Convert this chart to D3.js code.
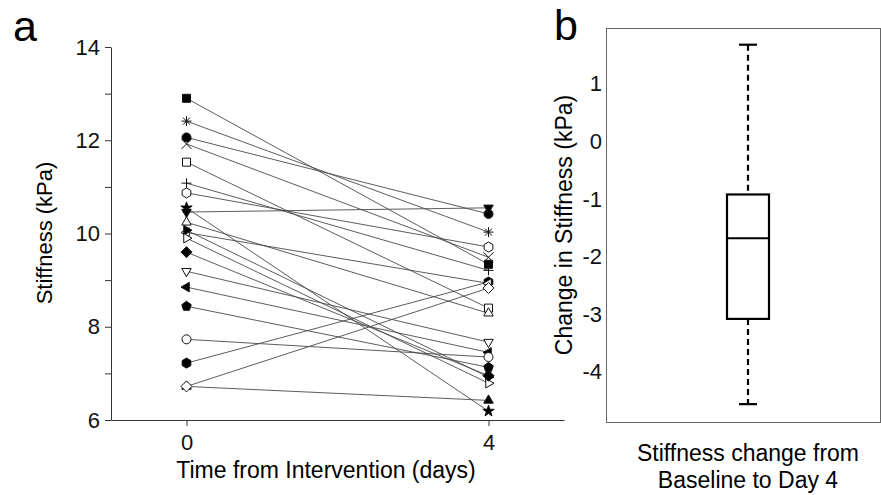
<!DOCTYPE html>
<html lang="en">
<head>
  <meta charset="UTF-8">
  <title>Stiffness</title>
  <script src="https://cdn.jsdelivr.net/npm/d3@7"></script>
  <style>
    body {
      margin: 0;
      background: #fff;
    }

    svg {
      font-family: "Liberation Sans", Arial, sans-serif;
    }

    .axis path, .axis line {
      stroke: #333;
    }

    .axis text {
      fill: #111;
      font-family: "Liberation Sans", Arial, sans-serif;
    }
  </style>
</head>
<body>
<svg id="chart" width="881" height="495"></svg>
<script>
  // panel a: one entry per subject, baseline (day 0) and day 4
  const markerTypes = ["hexagonF", "triUpF", "squareF", "asterisk", "circleF", "times", "square", "plus", "hexagon",
    "star", "triDownF", "triUp", "triLeft", "triRightF", "triRight", "diamondF", "triDown", "triLeftF",
    "pentagonF", "circle", "diamond"];
  const day0 = [7.22, 6.72, 12.90, 12.41, 12.06, 11.92, 11.53, 11.08, 10.87,
    10.55, 10.46, 10.24, 10.02, 10.07, 9.90, 9.60, 9.19, 8.85,
    8.44, 7.73, 6.72];
  const day4 = [8.96, 6.42, 9.34, 10.03, 10.42, 9.49, 8.40, 9.21, 9.71,
    6.19, 10.55, 8.29, 8.93, 6.92, 6.79, 6.95, 7.67, 7.45,
    7.13, 7.35, 8.83];
  const days = [0, 4];
  const yTicksA = [6, 8, 10, 12, 14];
  const yMinorA = [7, 9, 11, 13];

  // panel b: change from baseline to day 4
  const boxStats = {min: -4.56, q1: -3.08, median: -1.68, q3: -0.92, max: 1.68};
  const yTicksB = [-4, -3, -2, -1, 0, 1];

  const svg = d3.select("#chart");

  // ---------- panel a ----------
  let x = d3.scaleLinear().domain([-1, 5]).range([111, 564]);
  let y = d3.scaleLinear().domain([6, 14]).range([420, 47]);

  svg.append("g")
      .attr("class", "axis")
      .attr("transform", "translate(111,0)")
      .call(d3.axisLeft(y).tickValues(yTicksA).tickFormat(d => String(d)).tickSize(6).tickSizeOuter(0).tickPadding(5))
      .call(g => g.selectAll("text").style("font-size", "22px"));

  svg.append("g")
      .attr("class", "axis")
      .attr("transform", "translate(111,0)")
      .call(d3.axisLeft(y).tickValues(yMinorA).tickSize(6).tickSizeOuter(0).tickFormat(""))
      .call(g => g.select(".domain").remove());

  svg.append("g")
      .attr("class", "axis")
      .attr("transform", "translate(0,420)")
      .call(d3.axisBottom(x).tickValues(days).tickFormat(d => String(d)).tickSize(6).tickSizeOuter(0).tickPadding(8))
      .call(g => g.selectAll("text").style("font-size", "22px"));

  let subjects = markerTypes.map((m, i) => ({marker: m, v0: day0[i], v4: day4[i]}));

  svg.append("g")
      .selectAll("line")
      .data(subjects)
      .join("line")
      .attr("x1", x(days[0]))
      .attr("x2", x(days[1]))
      .attr("y1", d => y(d.v0))
      .attr("y2", d => y(d.v4))
      .attr("stroke", "#4a4a4a")
      .attr("stroke-width", 0.9);

  let pts = [];
  subjects.forEach(d => {
    pts.push({marker: d.marker, cx: x(days[0]), cy: y(d.v0)});
    pts.push({marker: d.marker, cx: x(days[1]), cy: y(d.v4)});
  });

  svg.append("g")
      .selectAll("path")
      .data(pts)
      .join("path")
      .attr("transform", d => `translate(${d.cx},${d.cy})`)
      .attr("d", d => shape(d.marker, 5))
      .attr("fill", d => isStroke(d.marker) ? "none" : (d.marker.endsWith("F") || d.marker === "star" ? "#000" : "#fff"))
      .attr("stroke", "#111")
      .attr("stroke-width", 1);

  svg.append("text")
      .attr("transform", "translate(52,233) rotate(-90)")
      .attr("text-anchor", "middle")
      .style("font-size", "22px")
      .text("Stiffness (kPa)");

  svg.append("text")
      .attr("x", 326)
      .attr("y", 478)
      .attr("text-anchor", "middle")
      .style("font-size", "23px")
      .text("Time from Intervention (days)");

  svg.append("text")
      .attr("x", 13)
      .attr("y", 41)
      .style("font-size", "43px")
      .text("a");

  // ---------- panel b ----------
  let yb = d3.scaleLinear().domain([-4.87, 1.97]).range([422, 28]);
  let cx = 748, bw = 42, cw = 18;

  svg.append("rect")
      .attr("x", 606.5)
      .attr("y", 28.5)
      .attr("width", 274)
      .attr("height", 394)
      .attr("fill", "none")
      .attr("stroke", "#666");

  svg.append("g")
      .attr("class", "axis")
      .attr("transform", "translate(606,0)")
      .call(d3.axisLeft(yb).tickValues(yTicksB).tickFormat(d => String(d)).tickSize(0).tickPadding(4))
      .call(g => g.select(".domain").remove())
      .call(g => g.selectAll("text").style("font-size", "22px"));

  let box = svg.append("g")
      .attr("stroke", "#000")
      .attr("stroke-width", 2.2)
      .attr("fill", "none");

  box.append("line")
      .attr("x1", cx).attr("x2", cx)
      .attr("y1", yb(boxStats.max)).attr("y2", yb(boxStats.q3))
      .attr("stroke-dasharray", "6,4");
  box.append("line")
      .attr("x1", cx).attr("x2", cx)
      .attr("y1", yb(boxStats.q1)).attr("y2", yb(boxStats.min))
      .attr("stroke-dasharray", "6,4");
  box.selectAll(".cap")
      .data([boxStats.max, boxStats.min])
      .join("line")
      .attr("x1", cx - cw / 2).attr("x2", cx + cw / 2)
      .attr("y1", d => yb(d)).attr("y2", d => yb(d));
  box.append("rect")
      .attr("x", cx - bw / 2)
      .attr("y", yb(boxStats.q3))
      .attr("width", bw)
      .attr("height", yb(boxStats.q1) - yb(boxStats.q3))
      .attr("fill", "#fff");
  box.append("line")
      .attr("x1", cx - bw / 2).attr("x2", cx + bw / 2)
      .attr("y1", yb(boxStats.median)).attr("y2", yb(boxStats.median));

  svg.append("text")
      .attr("transform", "translate(572,225) rotate(-90)")
      .attr("text-anchor", "middle")
      .style("font-size", "23px")
      .text("Change in Stiffness (kPa)");

  svg.append("text")
      .attr("x", cx)
      .attr("y", 461)
      .attr("text-anchor", "middle")
      .style("font-size", "23px")
      .text("Stiffness change from");
  svg.append("text")
      .attr("x", cx)
      .attr("y", 488)
      .attr("text-anchor", "middle")
      .style("font-size", "23px")
      .text("Baseline to Day 4");

  svg.append("text")
      .attr("x", 554)
      .attr("y", 40)
      .style("font-size", "43px")
      .text("b");

  function isStroke(m) {
    return m === "plus" || m === "times" || m === "asterisk";
  }

  function polygon(n, r, rot) {
    let p = [];
    for (let i = 0; i < n; i++) {
      let a = rot + i * 2 * Math.PI / n;
      p.push([r * Math.cos(a), r * Math.sin(a)]);
    }
    return "M" + p.map(q => q[0].toFixed(2) + "," + q[1].toFixed(2)).join("L") + "Z";
  }

  function shape(m, r) {
    let base = m.replace(/F$/, "");
    switch (base) {
      case "square":
        return `M${-r + 1},${-r + 1}H${r - 1}V${r - 1}H${-r + 1}Z`;
      case "circle":
        return d3.symbol(d3.symbolCircle, Math.PI * (r - 0.5) * (r - 0.5))();
      case "diamond":
        return polygon(4, r + 0.5, 0);
      case "triUp":
        return polygon(3, r + 0.5, -Math.PI / 2);
      case "triDown":
        return polygon(3, r + 0.5, Math.PI / 2);
      case "triLeft":
        return polygon(3, r + 0.5, Math.PI);
      case "triRight":
        return polygon(3, r + 0.5, 0);
      case "pentagon":
        return polygon(5, r, -Math.PI / 2);
      case "hexagon":
        return polygon(6, r, Math.PI / 6);
      case "star":
        return d3.symbol(d3.symbolStar, 40)();
      case "plus":
        return `M${-r},0H${r}M0,${-r}V${r}`;
      case "times":
        return `M${-r},${-r}L${r},${r}M${-r},${r}L${r},${-r}`;
      case "asterisk":
        return `M${-r},0H${r}M${-r * 0.7},${-r * 0.7}L${r * 0.7},${r * 0.7}M${-r * 0.7},${r * 0.7}L${r * 0.7},${-r * 0.7}M0,${-r}V${r}`;
    }
    return "";
  }
</script>
</body>
</html>
